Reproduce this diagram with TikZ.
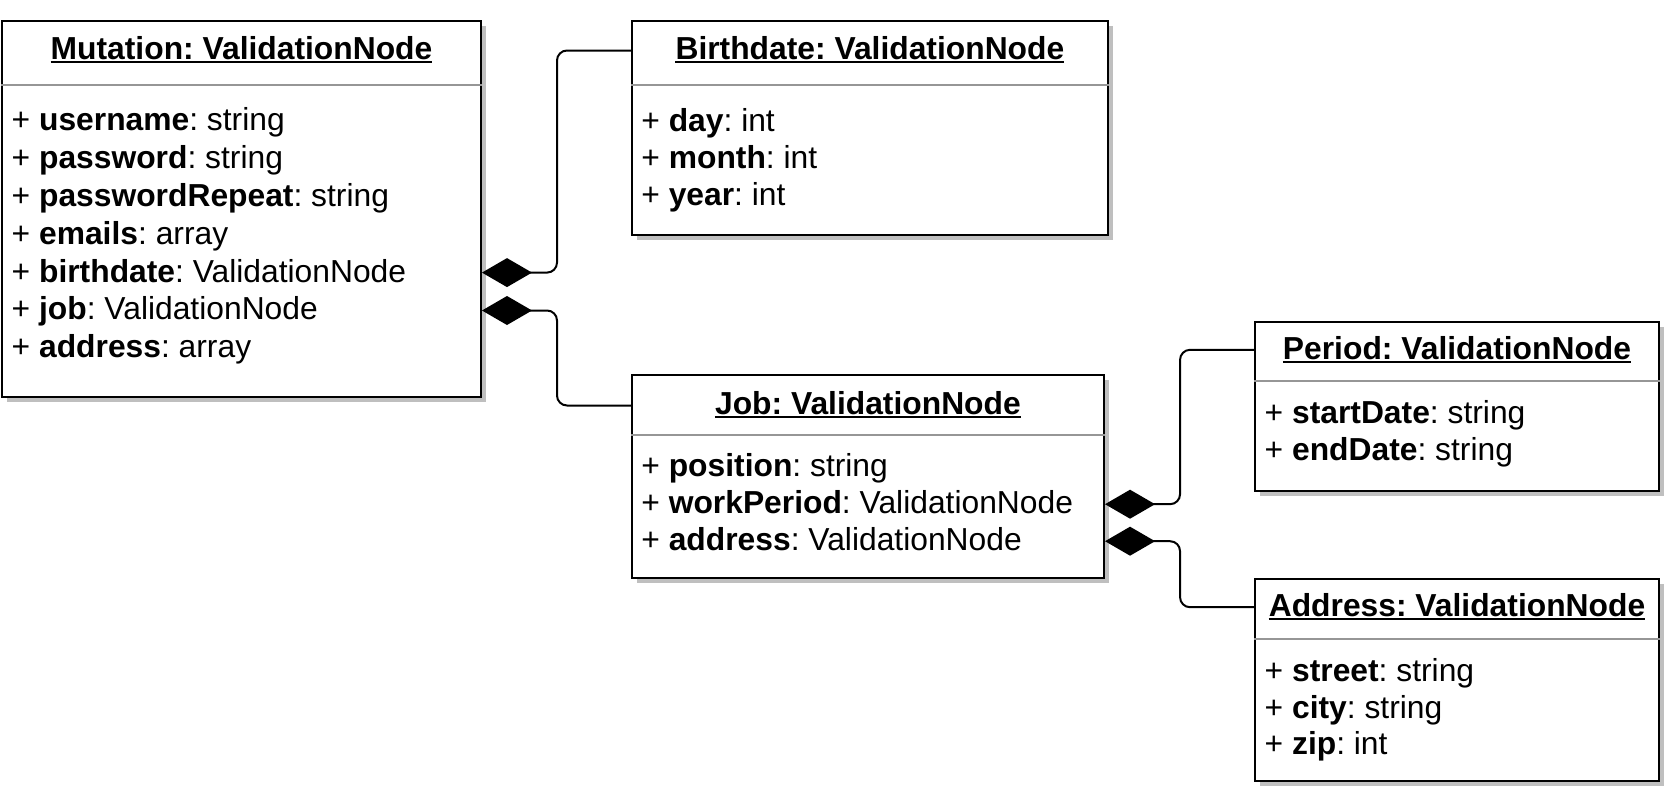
\documentclass[tikz,border=0pt]{standalone}
\usepackage{fontspec}
\setmainfont{Liberation Sans}
\usepackage{tikz}
\usetikzlibrary{arrows.meta,positioning,calc,shadows}
\definecolor{sepgray}{RGB}{150,150,150}
\definecolor{shadowgray}{RGB}{191,191,191}
\frenchspacing

\begin{document}
\begin{tikzpicture}[x=1pt, y=-1pt,
    classbox/.style={draw=black, line width=2pt, fill=white, inner sep=0pt,
      drop shadow={shadow xshift=5pt, shadow yshift=-5pt, opacity=1, fill=shadowgray}},
    title/.style={font=\fontsize{31.8}{38}\selectfont\bfseries, inner sep=0pt,
      text height=23.6pt, text depth=4.7pt},
    attr/.style={font=\fontsize{31.8}{38}\selectfont, anchor=west, inner sep=0pt,
      text height=23.6pt, text depth=4.7pt},
    sepline/.style={draw=sepgray, line width=2pt},
    uline/.style={line width=2pt},
    comp/.style={line width=2pt, rounded corners=10pt, {Diamond[length=50pt,width=29pt]}-}]
    \useasboundingbox (0,0) rectangle (1666,790);

    % Mutation
    \node[classbox, minimum width=479pt, minimum height=376pt] (mutation) at (241.5,208.9) {};
    \node[title] (mut-title) at (241.5,49.8) {Mutation: ValidationNode};
    \draw[sepline] (mutation.west |- 0,85) -- (mutation.east |- 0,85);
    \foreach \nm/\ty [count=\i] in {username/string, password/string, passwordRepeat/string,
        emails/array, birthdate/ValidationNode, job/ValidationNode, address/array}
      \node[attr] (mut-\i) at (11.5,{121+37.9*(\i-1)}) {+ \textbf{\nm}: \ty};

    % Birthdate
    \node[classbox, minimum width=476.3pt, minimum height=214pt] (birthdate) at (869.9,128) {};
    \node[title] (bd-title) at (869.9,50.5) {Birthdate: ValidationNode};
    \draw[sepline] (birthdate.west |- 0,85) -- (birthdate.east |- 0,85);
    \foreach \nm/\ty [count=\i] in {day/int, month/int, year/int}
      \node[attr] (bd-\i) at (641.2,{122.2+36.9*(\i-1)}) {+ \textbf{\nm}: \ty};

    % Job
    \node[classbox, minimum width=472.3pt, minimum height=203.3pt] (job) at (867.9,476.7) {};
    \node[title] (job-title) at (867.9,405.5) {Job: ValidationNode};
    \draw[sepline] (job.west |- 0,435) -- (job.east |- 0,435);
    \foreach \nm/\ty [count=\i] in {position/string, workPeriod/ValidationNode, address/ValidationNode}
      \node[attr] (job-\i) at (641.2,{467.2+37*(\i-1)}) {+ \textbf{\nm}: \ty};

    % Period
    \node[classbox, minimum width=404pt, minimum height=169pt] (period) at (1457,406.2) {};
    \node[title] (per-title) at (1457,349.8) {Period: ValidationNode};
    \draw[sepline] (period.west |- 0,380.7) -- (period.east |- 0,380.7);
    \foreach \nm/\ty [count=\i] in {startDate/string, endDate/string}
      \node[attr] (per-\i) at (1264.5,{413.8+36.9*(\i-1)}) {+ \textbf{\nm}: \ty};

    % Address
    \node[classbox, minimum width=404pt, minimum height=201.2pt] (address) at (1457,679.9) {};
    \node[title] (addr-title) at (1457,607.2) {Address: ValidationNode};
    \draw[sepline] (address.west |- 0,639) -- (address.east |- 0,639);
    \foreach \nm/\ty [count=\i] in {street/string, city/string, zip/int}
      \node[attr] (addr-\i) at (1264.5,{672.2+36.6*(\i-1)}) {+ \textbf{\nm}: \ty};

    % underlined titles
    \foreach \t in {mut-title, bd-title, job-title, per-title, addr-title}
      \draw[uline] ([yshift=-2.5pt]\t.base west) -- ([yshift=-2.5pt]\t.base east);

    % compositions
    \draw[comp] (mutation.east |- mut-5) -- ++(75,0) |- (birthdate.west |- bd-title);
    \draw[comp] (mutation.east |- mut-6) -- ++(75,0) |- (job.west |- job-title);
    \draw[comp] (job.east |- job-2) -- ++(75,0) |- (period.west |- per-title);
    \draw[comp] (job.east |- job-3) -- ++(75,0) |- (address.west |- addr-title);
\end{tikzpicture}
\end{document}
